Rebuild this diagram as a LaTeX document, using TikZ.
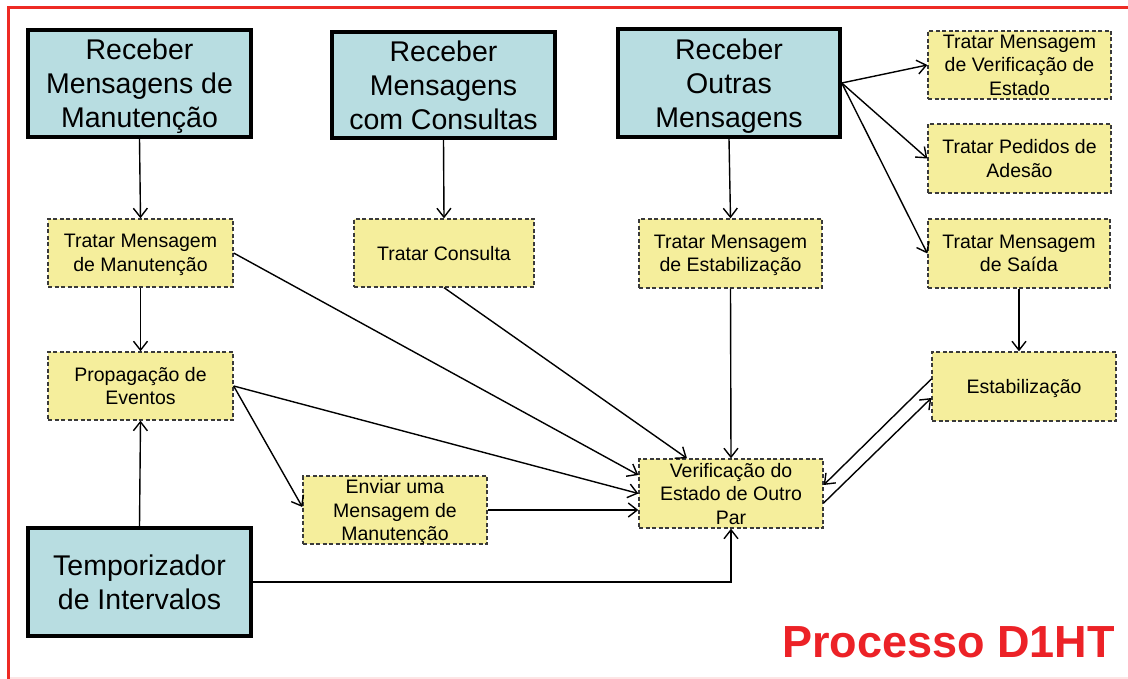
\documentclass[tikz,border=0pt]{standalone}
\usepackage{fontspec}
\setmainfont{Liberation Sans}
\usetikzlibrary{arrows.meta,calc}
\definecolor{boxblue}{HTML}{B8DDE1}
\definecolor{boxyellow}{HTML}{F5EE9C}
\definecolor{dashgray}{HTML}{3A3A3A}
\definecolor{framered}{HTML}{EE2A24}
\definecolor{titlered}{HTML}{EC2227}
\begin{document}
\begin{tikzpicture}[x=1pt,y=-1pt,
  recvbox/.style={draw=black,line width=3.5pt,fill=boxblue,inner sep=0pt,align=center,
    text depth=0pt,font=\fontsize{28.5}{34}\selectfont},
  taskbox/.style={draw=dashgray,line width=1.3pt,dash pattern=on 4pt off 2.5pt,fill=boxyellow,
    inner sep=0pt,align=center,text depth=0pt,font=\fontsize{19.5}{23.5}\selectfont},
  link/.style={line width=1.4pt,-{Straight Barb[length=9pt,width=14pt]}}]

\useasboundingbox (0,0) rectangle (1128,679);

% outer frame
\draw[framered!12,line width=1.5pt] (8.5,678) -- (1128,678);
\draw[framered,line width=2.5pt] (1128,7.7) -- (8.5,7.7) -- (8.5,679);

% receiving processes
\node[recvbox,minimum width=223pt,minimum height=107pt] (rm) at (139.5,83.5) {Receber\\Mensagens de\\Manutenção};
\node[recvbox,minimum width=223pt,minimum height=106pt] (rc) at (443.5,85) {Receber\\Mensagens\\com Consultas};
\node[recvbox,minimum width=222pt,minimum height=108pt] (ro) at (729,83) {Receber\\Outras\\Mensagens};
\node[recvbox,minimum width=223pt,minimum height=108pt] (tp) at (139.5,582) {Temporizador\\de Intervalos};

% handling tasks
\node[taskbox,minimum width=185pt,minimum height=68pt] (tm) at (140.5,253) {Tratar Mensagem\\de Manutenção};
\node[taskbox,minimum width=180pt,minimum height=68pt] (tc) at (444,253) {Tratar Consulta};
\node[taskbox,minimum width=183pt,minimum height=69pt] (te) at (730.5,253.5) {Tratar Mensagem\\de Estabilização};
\node[taskbox,minimum width=183pt,minimum height=68pt] (tv) at (1019.5,65) {Tratar Mensagem\\de Verificação de\\Estado};
\node[taskbox,minimum width=183pt,minimum height=69pt] (tpd) at (1019.5,158.5) {Tratar Pedidos de\\Adesão};
\node[taskbox,minimum width=182pt,minimum height=69pt] (ts) at (1019,253.5) {Tratar Mensagem\\de Saída};
\node[taskbox,minimum width=185pt,minimum height=68pt] (pe) at (140.5,386) {Propagação de\\Eventos};
\node[taskbox,minimum width=184pt,minimum height=69pt] (es) at (1024,386.5) {Estabilização};
\node[taskbox,minimum width=184pt,minimum height=69pt] (vp) at (731,493.5) {Verificação do\\Estado de Outro\\Par};
\node[taskbox,minimum width=184pt,minimum height=68pt] (en) at (395,510) {Enviar uma\\Mensagem de\\Manutenção};

% title
\node[anchor=base east,text=titlered,inner sep=0pt,
  font=\fontsize{45}{54}\selectfont\bfseries] (title) at (1115,657) {Processo D1HT};

% connectors
\draw[link] (rm.south) -- (tm.north);
\draw[link] (rc.south) -- (tc.north);
\draw[link] (ro.south) -- (te.north);
\draw[link] (tm.south) -- (pe.north);
\draw[link] (tp.north) -- (pe.south);
\draw[link] (ts.south) -- (ts.south |- es.north);
\draw[link] (te.south) -- (vp.north);
\draw[link] (tc.south) -- ([xshift=-44pt]vp.north);
\draw[link] (tm.east) -- ([yshift=18.5pt]vp.west);
\draw[link] (pe.east) -- (vp.west);
\draw[link] (pe.east) -- ([yshift=3pt]en.west);
\draw[link] (en.east) -- (en.east -| vp.west);
\draw[link] (tp.east) -| (vp.south);
\draw[link] ([yshift=7.5pt]es.west) -- ([yshift=8.5pt]vp.east);
\draw[link] ([yshift=-9.5pt]vp.east) -- ([yshift=-11.5pt]es.west);
\draw[link] (ro.east) -- (tv.west);
\draw[link] (ro.east) -- (tpd.west);
\draw[link] (ro.east) -- (ts.west);
\end{tikzpicture}
\end{document}
